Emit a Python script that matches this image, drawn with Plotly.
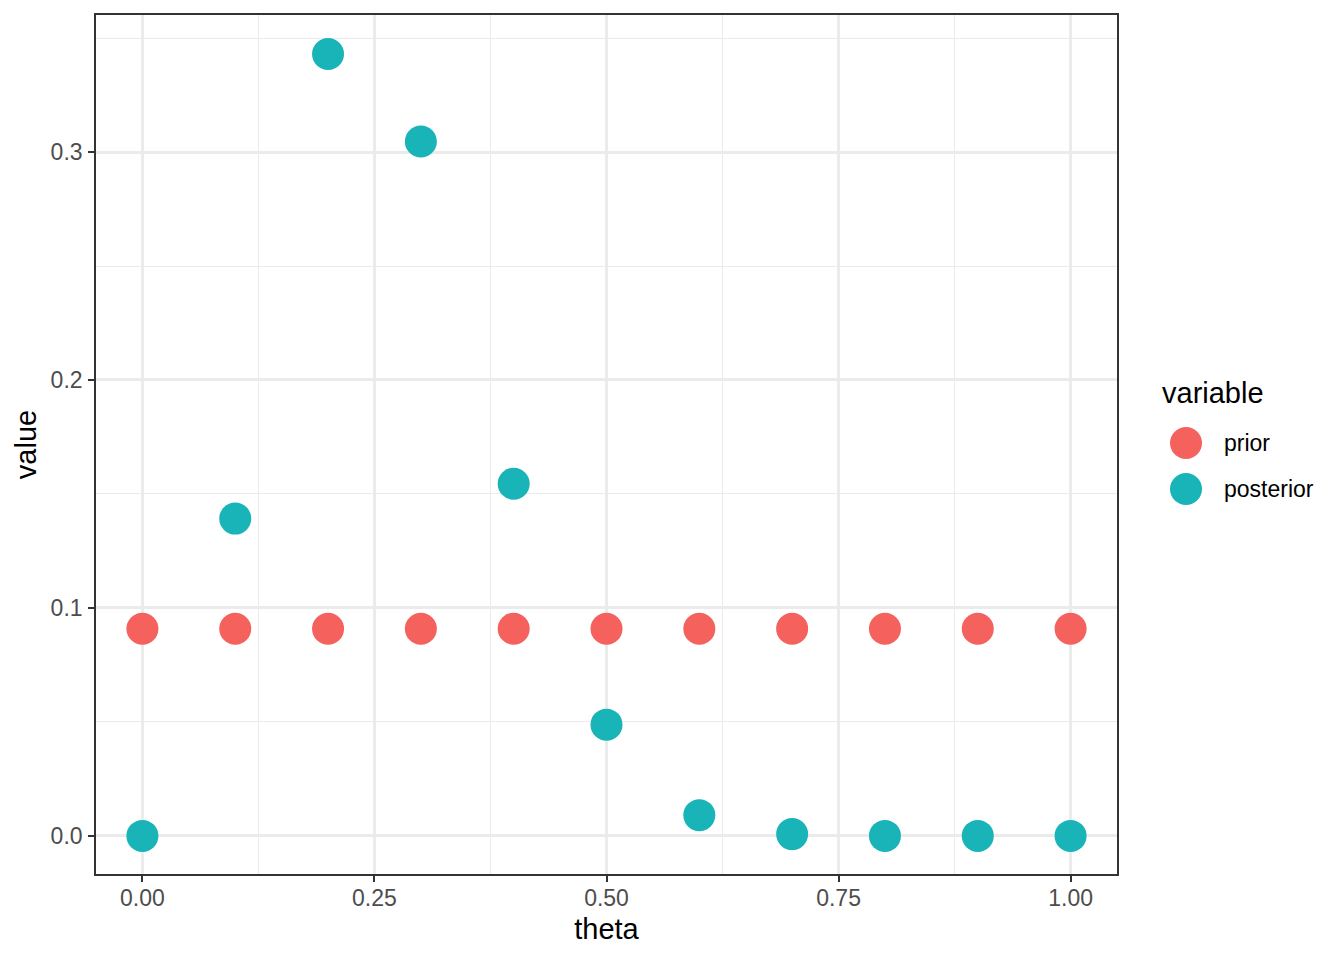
import plotly.graph_objects as go

theta = [0.0, 0.1, 0.2, 0.3, 0.4, 0.5, 0.6, 0.7, 0.8, 0.9, 1.0]
prior = [0.0909] * 11
posterior = [0.0, 0.1392, 0.3430, 0.3046, 0.1545, 0.0488, 0.0091, 0.0008, 0.0000, 0.0000, 0.0]
series_names = ["prior", "posterior"]
colors = ["#F5625D", "#19B4B8"]

fig = go.Figure()
for name, vals, col in zip(series_names, [prior, posterior], colors):
    fig.add_trace(go.Scatter(
        x=theta, y=vals, mode="markers", name=name, showlegend=False,
        marker=dict(color=col, size=32, line=dict(width=0)),
    ))

axis_common = dict(
    showline=True, linecolor="#333333", linewidth=1.6, mirror=True,
    showgrid=True, gridcolor="#EBEBEB", gridwidth=2.5,
    ticks="outside", ticklen=6, tickcolor="#333333", tickwidth=1.6,
    tickfont=dict(family="Liberation Sans", size=23, color="#4D4D4D"),
    zeroline=False,
    title_font=dict(family="Liberation Sans", size=29, color="#000000"),
)

fig.update_xaxes(
    range=[-0.05, 1.05], tickvals=[0, 0.25, 0.5, 0.75, 1.0], tickformat=".2f",
    minor=dict(tickvals=[0.125, 0.375, 0.625, 0.875], showgrid=True, gridcolor="#EBEBEB", gridwidth=1.3, ticks=""),
    title_text="theta", title_standoff=8, ticklabelstandoff=-3, **axis_common,
)
fig.update_yaxes(
    range=[-0.0167, 0.3601], tickvals=[0, 0.1, 0.2, 0.3], tickformat=".1f",
    minor=dict(tickvals=[0.05, 0.15, 0.25, 0.35], showgrid=True, gridcolor="#EBEBEB", gridwidth=1.3, ticks=""),
    title_text="value", title_standoff=5, ticklabelstandoff=1, **axis_common,
)

# ggplot-style legend (large keys) built from shapes + annotations
px0, px1, py0, py1 = 96, 1117, 15, 874
def xp(px):
    return (px - px0) / (px1 - px0)
def yp(py):
    return (py1 - py) / (py1 - py0)

fig.add_annotation(text="variable", xref="paper", yref="paper", x=xp(1160), y=yp(393),
                   xanchor="left", yanchor="middle", showarrow=False,
                   font=dict(family="Liberation Sans", size=29, color="#000000"))
for i, (name, col) in enumerate(zip(series_names, colors)):
    cy = yp(443 + 46 * i)
    fig.add_shape(type="circle", xref="paper", yref="paper",
                  xsizemode="pixel", ysizemode="pixel",
                  xanchor=xp(1186), yanchor=cy, x0=-16, x1=16, y0=-16, y1=16,
                  fillcolor=col, line=dict(width=0))
    fig.add_annotation(text=name, xref="paper", yref="paper", x=xp(1222), y=cy,
                       xanchor="left", yanchor="middle", showarrow=False,
                       font=dict(family="Liberation Sans", size=23, color="#000000"))

fig.update_layout(
    width=1344, height=960,
    margin=dict(l=96, r=227, t=15, b=86, autoexpand=False),
    plot_bgcolor="white", paper_bgcolor="white",
    font=dict(family="Liberation Sans"),
    showlegend=False,
)

fig.write_html("out.html", config={"displayModeBar": False},
               post_script="document.body.style.margin='0';")
